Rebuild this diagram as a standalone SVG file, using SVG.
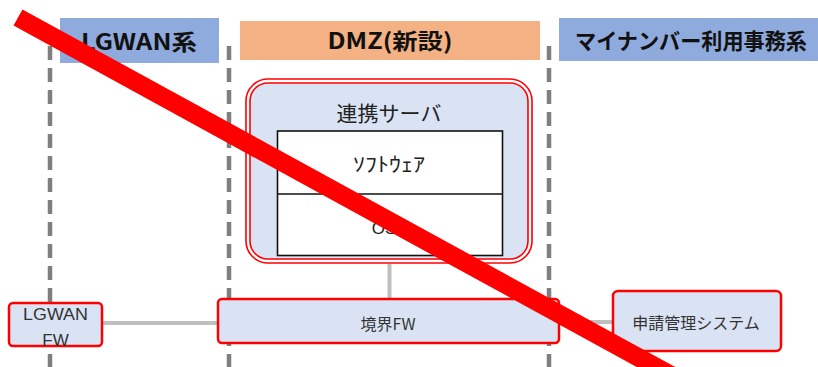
<svg xmlns="http://www.w3.org/2000/svg" width="818" height="367" viewBox="0 0 818 367">
<style>
.hdr{font-family:"Noto Sans CJK JP","Liberation Sans",sans-serif;font-weight:bold;font-size:22px;fill:#111;text-anchor:middle}
.lbl{font-family:"Liberation Sans","Noto Sans CJK JP",sans-serif;font-size:17px;fill:#333;text-anchor:middle}
.jp{font-family:"Noto Sans CJK JP",sans-serif;font-size:16px;fill:#333;text-anchor:middle}
.box{fill:#DAE3F3;stroke:#FF0000;stroke-width:2.5}
.zone{stroke:#7F7F7F;stroke-width:4.5;stroke-dasharray:14 8;fill:none}
.conn{stroke:#BFBFBF;stroke-width:4;fill:none}
</style>
<rect width="818" height="367" fill="#FFFFFF"/>
<g id="zones">
<line class="zone" x1="50" y1="46" x2="50" y2="367"/>
<line class="zone" x1="229" y1="46" x2="229" y2="367"/>
<line class="zone" x1="549" y1="46" x2="549" y2="367"/>
</g>
<g id="header-lgwan">
<rect x="60" y="18" width="159" height="45" fill="#8FAADC"/>
<text class="hdr" x="139" y="50" textLength="116" lengthAdjust="spacingAndGlyphs">LGWAN系</text>
</g>
<g id="header-dmz">
<rect x="240" y="21" width="300" height="39" fill="#F4B183"/>
<text class="hdr" x="390" y="49" textLength="125" lengthAdjust="spacingAndGlyphs">DMZ(新設)</text>
</g>
<g id="header-mynumber">
<rect x="559" y="18" width="259" height="43" fill="#8FAADC"/>
<text class="hdr" x="691" y="49" textLength="232" lengthAdjust="spacingAndGlyphs">マイナンバー利用事務系</text>
</g>
<g id="connectors">
<line class="conn" x1="389.5" y1="264" x2="389.5" y2="299"/>
<line class="conn" x1="102" y1="323" x2="218" y2="323"/>
<line class="conn" x1="559" y1="322" x2="613" y2="322"/>
</g>
<g id="server">
<rect x="246" y="79" width="286" height="184" rx="22" fill="none" stroke="#FF0000" stroke-width="1.6"/>
<rect x="250" y="83" width="278" height="176" rx="18" fill="#DAE3F3" stroke="#FF0000" stroke-width="1.6"/>
<text x="389" y="121" font-family="Noto Sans CJK JP,sans-serif" font-size="21" fill="#222" text-anchor="middle">連携サーバ</text>
<rect x="277.5" y="131" width="225" height="124.5" fill="#FFFFFF" stroke="#111" stroke-width="1.6"/>
<line x1="277.5" y1="194" x2="502.5" y2="194" stroke="#111" stroke-width="1.6"/>
<text x="389" y="172" font-family="Noto Sans CJK JP,sans-serif" font-size="20" fill="#222" text-anchor="middle" textLength="72" lengthAdjust="spacingAndGlyphs">ｿﾌﾄｳｪｱ</text>
<text x="384" y="234" font-family="Liberation Sans,sans-serif" font-size="17" fill="#222" text-anchor="middle">OS</text>
</g>
<g id="lgwan-fw">
<rect class="box" x="9" y="303" width="93" height="43" rx="4"/>
<text class="lbl" x="55.5" y="320" textLength="65" lengthAdjust="spacingAndGlyphs">LGWAN</text>
<text class="lbl" x="55.5" y="346">FW</text>
</g>
<g id="boundary-fw">
<rect class="box" x="218" y="299" width="341" height="44" rx="4"/>
<text class="jp" x="388" y="330" font-size="17">境界FW</text>
</g>
<g id="application-system">
<rect class="box" x="613" y="291" width="168" height="60" rx="5"/>
<text class="jp" x="696" y="329">申請管理システム</text>
</g>
<g id="cross-out">
<line x1="18" y1="17.5" x2="718" y2="401" stroke="#FF0000" stroke-width="18.5"/>
</g>
</svg>
